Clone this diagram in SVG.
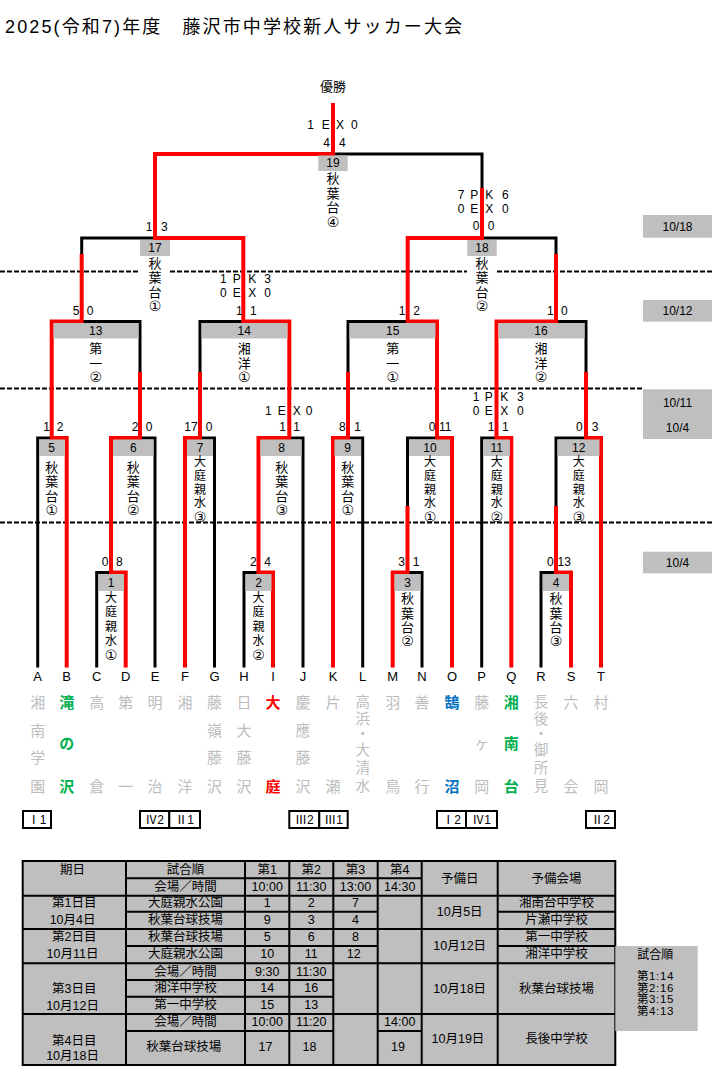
<svg xmlns="http://www.w3.org/2000/svg" width="712" height="1085" viewBox="0 0 712 1085">
<style>
text{font-family:"Liberation Sans","Noto Sans CJK JP",sans-serif;fill:#000}
.c{text-anchor:middle;dominant-baseline:central}
.s{font-size:12px}
.t{font-size:12.5px}
.v{font-size:13px}
.v5{font-size:12px}
.ci{font-size:14px;font-family:"DejaVu Sans","Noto Sans CJK JP",sans-serif}
.nm{font-size:15px;fill:#bdbdbd}
.grn{fill:#00b050;font-weight:bold}
.rdt{fill:#ff0000;font-weight:bold}
.blu{fill:#0070c0;font-weight:bold}
.bk{fill:none;stroke:#000;stroke-width:3}
.rd{fill:none;stroke:#ff0000;stroke-width:4}
.dash{stroke:#000;stroke-width:2;stroke-dasharray:5 2}
.g{fill:#bfbfbf}
.tl{stroke:#000;stroke-width:2;fill:none}
.rb{fill:#fff;stroke:#000;stroke-width:2}
</style>
<rect width="712" height="1085" fill="#fff"/>
<text x="5" y="27" style="font-size:18px;dominant-baseline:central" textLength="457" lengthAdjust="spacing">2025(令和7)年度　藤沢市中学校新人サッカー大会</text>

<g id="date-lines">
<line class="dash" x1="0" y1="271.5" x2="140" y2="271.5"/>
<line class="dash" x1="170" y1="271.5" x2="467" y2="271.5"/>
<line class="dash" x1="497" y1="271.5" x2="712" y2="271.5"/>
<line class="dash" x1="0" y1="388.5" x2="643" y2="388.5"/>
<line class="dash" x1="0" y1="522.5" x2="712" y2="522.5"/>
<rect class="g" x="643" y="215" width="69" height="22.7"/>
<text class="c s" x="677.5" y="226.5">10/18</text>
<rect class="g" x="643" y="300" width="69" height="21.7"/>
<text class="c s" x="677.5" y="311">10/12</text>
<rect class="g" x="643" y="389.3" width="69" height="49.7"/>
<text class="c s" x="677.5" y="403.3">10/11</text>
<text class="c s" x="677.5" y="427.7">10/4</text>
<rect class="g" x="643" y="551.7" width="69" height="21.6"/>
<text class="c s" x="677.5" y="562.5">10/4</text>
</g>

<g id="connectors">
<path class="bk" d="M37.7 667.5V438H51.7"/>
<path class="bk" d="M96.7 667.5V572.5H111"/>
<path class="bk" d="M155 667.5V438H140"/>
<path class="bk" d="M214.5 667.5V438H200"/>
<path class="bk" d="M244 667.5V572.5H258.5"/>
<path class="bk" d="M303 667.5V438H289.3"/>
<path class="bk" d="M362.7 667.5V438H348"/>
<path class="bk" d="M422 667.5V572.5H407.5"/>
<path class="bk" d="M407.5 506V438H437"/>
<path class="bk" d="M481.7 667.5V438H496.5"/>
<path class="bk" d="M541 667.5V572.5H556"/>
<path class="bk" d="M556 506V438H586"/>
<path class="bk" d="M140 372V321.5H81.7"/>
<path class="bk" d="M200 372V321.5H243.3"/>
<path class="bk" d="M348 372V321.5H407.7"/>
<path class="bk" d="M586 372V321.5H556"/>
<path class="bk" d="M81.7 254V238H155"/>
<path class="bk" d="M556 254V238H482"/>
<path class="bk" d="M482 188V154H333"/>
<path class="rd" d="M66.7 667.5V438H51.7V321.5H81.7V254"/>
<path class="rd" d="M125.7 667.5V572.5H111V438H140V372"/>
<path class="rd" d="M185 667.5V438H200V372"/>
<path class="rd" d="M273 667.5V572.5H258.5V438H289.3V321.5H243.3V238H155V154H333V103"/>
<path class="rd" d="M333 667.5V438H348V372"/>
<path class="rd" d="M392.7 667.5V572.5H407.5V506"/>
<path class="rd" d="M452 667.5V438H437V321.5H407.7V238H482V188"/>
<path class="rd" d="M511.3 667.5V438H496.5V321.5H556V254"/>
<path class="rd" d="M571 667.5V572.5H556V506"/>
<path class="rd" d="M601 667.5V438H586V372"/>
</g>

<g id="winner">
<text class="c" style="font-size:13px" x="333" y="86">優勝</text>
</g>

<g id="m19">
<rect class="g" x="318.3" y="155.5" width="29.4" height="15.5"/>
<text class="c s" x="333" y="163.3">19</text>
<text class="c v"><tspan x="333" y="178">秋</tspan><tspan x="333" y="192.7">葉</tspan><tspan x="333" y="206.7">台</tspan><tspan class="ci" x="333" y="221.7">④</tspan></text>
<text class="c s"><tspan x="310.7" y="125">1</tspan><tspan x="325.7" y="125">E</tspan><tspan x="340" y="125">X</tspan><tspan x="354.3" y="125">0</tspan><tspan x="326.7" y="142.7">4</tspan><tspan x="342.3" y="142.7">4</tspan></text>
</g>

<g id="m17">
<rect class="g" x="140" y="240" width="30" height="16"/>
<text class="c s" x="155" y="248">17</text>
<text class="c v"><tspan x="155" y="262.5">秋</tspan><tspan x="155" y="277">葉</tspan><tspan x="155" y="291.7">台</tspan><tspan class="ci" x="155" y="305.7">①</tspan></text>
<text class="c s"><tspan x="149" y="226.7">1</tspan><tspan x="164.3" y="226.7">3</tspan></text>
</g>

<g id="m18">
<rect class="g" x="467.3" y="240" width="29.4" height="16"/>
<text class="c s" x="482" y="248">18</text>
<text class="c v"><tspan x="482" y="263.3">秋</tspan><tspan x="482" y="277.3">葉</tspan><tspan x="482" y="291.7">台</tspan><tspan class="ci" x="482" y="305.7">②</tspan></text>
<text class="c s"><tspan x="461" y="195">7</tspan><tspan x="474.3" y="195">P</tspan><tspan x="489.3" y="195">K</tspan><tspan x="505.3" y="195">6</tspan><tspan x="461" y="209">0</tspan><tspan x="474.3" y="209">E</tspan><tspan x="489.3" y="209">X</tspan><tspan x="505.3" y="209">0</tspan><tspan x="476" y="226">0</tspan><tspan x="491" y="226">0</tspan></text>
</g>

<g id="m13">
<rect class="g" x="53.5" y="323" width="85" height="15.5"/>
<text class="c s" x="95.7" y="330.5">13</text>
<text class="c v"><tspan x="95.7" y="348.3">第</tspan><tspan x="95.7" y="363.3">一</tspan><tspan class="ci" x="95.7" y="377.3">②</tspan></text>
<text class="c s"><tspan x="76" y="311">5</tspan><tspan x="90" y="311">0</tspan></text>
</g>

<g id="m14">
<rect class="g" x="201.5" y="323" width="86" height="15.5"/>
<text class="c s" x="244.3" y="330.5">14</text>
<text class="c v"><tspan x="244.3" y="348.3">湘</tspan><tspan x="244.3" y="363.3">洋</tspan><tspan class="ci" x="244.3" y="377.3">①</tspan></text>
<text class="c s"><tspan x="223.3" y="279">1</tspan><tspan x="236.7" y="279">P</tspan><tspan x="252.3" y="279">K</tspan><tspan x="267.7" y="279">3</tspan><tspan x="223.3" y="293.3">0</tspan><tspan x="236.7" y="293.3">E</tspan><tspan x="252.3" y="293.3">X</tspan><tspan x="267.7" y="293.3">0</tspan><tspan x="239.3" y="311">1</tspan><tspan x="253.3" y="311">1</tspan></text>
</g>

<g id="m15">
<rect class="g" x="349.5" y="323" width="86" height="15.5"/>
<text class="c s" x="392.7" y="330.5">15</text>
<text class="c v"><tspan x="392.7" y="348.3">第</tspan><tspan x="392.7" y="363.3">一</tspan><tspan class="ci" x="392.7" y="377.3">①</tspan></text>
<text class="c s"><tspan x="402" y="311">1</tspan><tspan x="416.7" y="311">2</tspan></text>
</g>

<g id="m16">
<rect class="g" x="498.5" y="323" width="86" height="15.5"/>
<text class="c s" x="541" y="330.5">16</text>
<text class="c v"><tspan x="541" y="348.3">湘</tspan><tspan x="541" y="363.3">洋</tspan><tspan class="ci" x="541" y="377.3">②</tspan></text>
<text class="c s"><tspan x="550.3" y="311">1</tspan><tspan x="564.3" y="311">0</tspan></text>
</g>

<g id="m5">
<rect class="g" x="39" y="439.5" width="26" height="16.5"/>
<text class="c s" x="51.7" y="447.7">5</text>
<text class="c v"><tspan x="51.7" y="466.7">秋</tspan><tspan x="51.7" y="481">葉</tspan><tspan x="51.7" y="495.5">台</tspan><tspan class="ci" x="51.7" y="509.5">①</tspan></text>
<text class="c s"><tspan x="46.7" y="426.7">1</tspan><tspan x="60" y="426.7">2</tspan></text>
</g>

<g id="m6">
<rect class="g" x="113" y="439.5" width="40.5" height="16.5"/>
<text class="c s" x="133.3" y="447.7">6</text>
<text class="c v"><tspan x="133.3" y="466.7">秋</tspan><tspan x="133.3" y="481">葉</tspan><tspan x="133.3" y="495.5">台</tspan><tspan class="ci" x="133.3" y="509.5">②</tspan></text>
<text class="c s"><tspan x="135" y="426.7">2</tspan><tspan x="149" y="426.7">0</tspan></text>
</g>

<g id="m7">
<rect class="g" x="187" y="439.5" width="26" height="16.5"/>
<text class="c s" x="200" y="447.7">7</text>
<text class="c v5"><tspan x="200" y="462">大</tspan><tspan x="200" y="475.8">庭</tspan><tspan x="200" y="489.5">親</tspan><tspan x="200" y="503">水</tspan><tspan class="ci" x="200" y="516.5">③</tspan></text>
<text class="c s"><tspan x="191" y="426.7">17</tspan><tspan x="209" y="426.7">0</tspan></text>
</g>

<g id="m8">
<rect class="g" x="260.5" y="439.5" width="41" height="16.5"/>
<text class="c s" x="281.7" y="447.7">8</text>
<text class="c v"><tspan x="281.7" y="466.7">秋</tspan><tspan x="281.7" y="481">葉</tspan><tspan x="281.7" y="495.5">台</tspan><tspan class="ci" x="281.7" y="509.5">③</tspan></text>
<text class="c s"><tspan x="268.3" y="411">1</tspan><tspan x="281.7" y="411">E</tspan><tspan x="296.7" y="411">X</tspan><tspan x="309" y="411">0</tspan><tspan x="282.7" y="426.7">1</tspan><tspan x="296.7" y="426.7">1</tspan></text>
</g>

<g id="m9">
<rect class="g" x="334.5" y="439.5" width="26.5" height="16.5"/>
<text class="c s" x="347.7" y="447.7">9</text>
<text class="c v"><tspan x="347.7" y="466.7">秋</tspan><tspan x="347.7" y="481">葉</tspan><tspan x="347.7" y="495.5">台</tspan><tspan class="ci" x="347.7" y="509.5">①</tspan></text>
<text class="c s"><tspan x="342.3" y="426.7">8</tspan><tspan x="357.7" y="426.7">1</tspan></text>
</g>

<g id="m10">
<rect class="g" x="409" y="439.5" width="41" height="16.5"/>
<text class="c s" x="430" y="447.7">10</text>
<text class="c v5"><tspan x="430" y="462">大</tspan><tspan x="430" y="475.8">庭</tspan><tspan x="430" y="489.5">親</tspan><tspan x="430" y="503">水</tspan><tspan class="ci" x="430" y="516.5">①</tspan></text>
<text class="c s"><tspan x="432" y="426.7">0</tspan><tspan x="445.3" y="426.7">11</tspan></text>
</g>

<g id="m11">
<rect class="g" x="483.2" y="439.5" width="26.6" height="16.5"/>
<text class="c s" x="496.7" y="447.7">11</text>
<text class="c v5"><tspan x="496.7" y="462">大</tspan><tspan x="496.7" y="475.8">庭</tspan><tspan x="496.7" y="489.5">親</tspan><tspan x="496.7" y="503">水</tspan><tspan class="ci" x="496.7" y="516.5">②</tspan></text>
<text class="c s"><tspan x="476" y="396.7">1</tspan><tspan x="488.7" y="396.7">P</tspan><tspan x="504.3" y="396.7">K</tspan><tspan x="520.3" y="396.7">3</tspan><tspan x="476" y="411">0</tspan><tspan x="488.7" y="411">E</tspan><tspan x="504.3" y="411">X</tspan><tspan x="520.3" y="411">0</tspan><tspan x="491" y="426.7">1</tspan><tspan x="505.3" y="426.7">1</tspan></text>
</g>

<g id="m12">
<rect class="g" x="557.5" y="439.5" width="42" height="16.5"/>
<text class="c s" x="578.7" y="447.7">12</text>
<text class="c v5"><tspan x="578.7" y="462">大</tspan><tspan x="578.7" y="475.8">庭</tspan><tspan x="578.7" y="489.5">親</tspan><tspan x="578.7" y="503">水</tspan><tspan class="ci" x="578.7" y="516.5">③</tspan></text>
<text class="c s"><tspan x="579.3" y="426.7">0</tspan><tspan x="595" y="426.7">3</tspan></text>
</g>

<g id="m1">
<rect class="g" x="98" y="574" width="26" height="17"/>
<text class="c s" x="111" y="582.5">1</text>
<text class="c v5"><tspan x="111" y="598">大</tspan><tspan x="111" y="612.3">庭</tspan><tspan x="111" y="626.6">親</tspan><tspan x="111" y="640.8">水</tspan><tspan class="ci" x="111" y="655">①</tspan></text>
<text class="c s"><tspan x="105" y="562">0</tspan><tspan x="119.3" y="562">8</tspan></text>
</g>

<g id="m2">
<rect class="g" x="245.5" y="574" width="26" height="17"/>
<text class="c s" x="258.5" y="582.5">2</text>
<text class="c v5"><tspan x="258.5" y="598">大</tspan><tspan x="258.5" y="612.3">庭</tspan><tspan x="258.5" y="626.6">親</tspan><tspan x="258.5" y="640.8">水</tspan><tspan class="ci" x="258.5" y="655">②</tspan></text>
<text class="c s"><tspan x="253.3" y="562">2</tspan><tspan x="267.7" y="562">4</tspan></text>
</g>

<g id="m3">
<rect class="g" x="394.5" y="574" width="26" height="17"/>
<text class="c s" x="407.5" y="582.5">3</text>
<text class="c v"><tspan x="407.5" y="598">秋</tspan><tspan x="407.5" y="612.5">葉</tspan><tspan x="407.5" y="627">台</tspan><tspan class="ci" x="407.5" y="641">②</tspan></text>
<text class="c s"><tspan x="401.7" y="562">3</tspan><tspan x="416" y="562">1</tspan></text>
</g>

<g id="m4">
<rect class="g" x="543" y="574" width="26" height="17"/>
<text class="c s" x="556" y="582.5">4</text>
<text class="c v"><tspan x="556" y="598">秋</tspan><tspan x="556" y="612.5">葉</tspan><tspan x="556" y="627">台</tspan><tspan class="ci" x="556" y="641">③</tspan></text>
<text class="c s"><tspan x="550.3" y="562">0</tspan><tspan x="564.3" y="562">13</tspan></text>
</g>

<g id="teams">
<text class="c" style="font-size:13px"><tspan x="37.7" y="676">A</tspan><tspan x="66.7" y="676">B</tspan><tspan x="96.7" y="676">C</tspan><tspan x="125.7" y="676">D</tspan><tspan x="155" y="676">E</tspan><tspan x="185" y="676">F</tspan><tspan x="214.5" y="676">G</tspan><tspan x="244" y="676">H</tspan><tspan x="273" y="676">I</tspan><tspan x="303" y="676">J</tspan><tspan x="333" y="676">K</tspan><tspan x="362.7" y="676">L</tspan><tspan x="392.7" y="676">M</tspan><tspan x="422" y="676">N</tspan><tspan x="452" y="676">O</tspan><tspan x="481.7" y="676">P</tspan><tspan x="511.3" y="676">Q</tspan><tspan x="541" y="676">R</tspan><tspan x="571" y="676">S</tspan><tspan x="601" y="676">T</tspan></text>
<g id="team-A"><text class="c nm"><tspan x="37.7" y="702">湘</tspan><tspan x="37.7" y="730">南</tspan><tspan x="37.7" y="757">学</tspan><tspan x="37.7" y="786">園</tspan></text></g>
<g id="team-B"><text class="c nm grn"><tspan x="66.7" y="702">滝</tspan><tspan x="66.7" y="743">の</tspan><tspan x="66.7" y="786">沢</tspan></text></g>
<g id="team-C"><text class="c nm"><tspan x="96.7" y="702">高</tspan><tspan x="96.7" y="786">倉</tspan></text></g>
<g id="team-D"><text class="c nm"><tspan x="125.7" y="702">第</tspan><tspan x="125.7" y="786">一</tspan></text></g>
<g id="team-E"><text class="c nm"><tspan x="155" y="702">明</tspan><tspan x="155" y="786">治</tspan></text></g>
<g id="team-F"><text class="c nm"><tspan x="185" y="702">湘</tspan><tspan x="185" y="786">洋</tspan></text></g>
<g id="team-G"><text class="c nm"><tspan x="214.5" y="702">藤</tspan><tspan x="214.5" y="730">嶺</tspan><tspan x="214.5" y="757">藤</tspan><tspan x="214.5" y="786">沢</tspan></text></g>
<g id="team-H"><text class="c nm"><tspan x="244" y="702">日</tspan><tspan x="244" y="730">大</tspan><tspan x="244" y="757">藤</tspan><tspan x="244" y="786">沢</tspan></text></g>
<g id="team-I"><text class="c nm rdt"><tspan x="273" y="702">大</tspan><tspan x="273" y="786">庭</tspan></text></g>
<g id="team-J"><text class="c nm"><tspan x="303" y="702">慶</tspan><tspan x="303" y="730">應</tspan><tspan x="303" y="757">藤</tspan><tspan x="303" y="786">沢</tspan></text></g>
<g id="team-K"><text class="c nm"><tspan x="333" y="702">片</tspan><tspan x="333" y="786">瀬</tspan></text></g>
<g id="team-L"><text class="c nm" style="font-size:14.5px"><tspan x="362.7" y="702">高</tspan><tspan x="362.7" y="718.5">浜</tspan><tspan x="362.7" y="733.5">・</tspan><tspan x="362.7" y="750">大</tspan><tspan x="362.7" y="767.5">清</tspan><tspan x="362.7" y="786">水</tspan></text></g>
<g id="team-M"><text class="c nm"><tspan x="392.7" y="702">羽</tspan><tspan x="392.7" y="786">鳥</tspan></text></g>
<g id="team-N"><text class="c nm"><tspan x="422" y="702">善</tspan><tspan x="422" y="786">行</tspan></text></g>
<g id="team-O"><text class="c nm blu"><tspan x="452" y="702">鵠</tspan><tspan x="452" y="786">沼</tspan></text></g>
<g id="team-P"><text class="c nm"><tspan x="481.7" y="702">藤</tspan><tspan x="481.7" y="743">ヶ</tspan><tspan x="481.7" y="786">岡</tspan></text></g>
<g id="team-Q"><text class="c nm grn"><tspan x="511.3" y="702">湘</tspan><tspan x="511.3" y="743">南</tspan><tspan x="511.3" y="786">台</tspan></text></g>
<g id="team-R"><text class="c nm" style="font-size:14.5px"><tspan x="541" y="702">長</tspan><tspan x="541" y="718.5">後</tspan><tspan x="541" y="733.5">・</tspan><tspan x="541" y="750">御</tspan><tspan x="541" y="767.5">所</tspan><tspan x="541" y="786">見</tspan></text></g>
<g id="team-S"><text class="c nm"><tspan x="571" y="702">六</tspan><tspan x="571" y="786">会</tspan></text></g>
<g id="team-T"><text class="c nm"><tspan x="601" y="702">村</tspan><tspan x="601" y="786">岡</tspan></text></g>
</g>

<g id="seeds">
<rect class="rb" x="23" y="811" width="28" height="17"/><text class="c s" x="37" y="819.5">Ⅰ1</text>
<rect class="rb" x="140" y="811" width="29.3" height="17"/><text class="c s" x="154.7" y="819.5">Ⅳ2</text>
<rect class="rb" x="169.3" y="811" width="30.7" height="17"/><text class="c s" x="184.7" y="819.5">Ⅱ1</text>
<rect class="rb" x="289.3" y="811" width="30" height="17"/><text class="c s" x="304.3" y="819.5">Ⅲ2</text>
<rect class="rb" x="319.3" y="811" width="28.4" height="17"/><text class="c s" x="333.5" y="819.5">Ⅲ1</text>
<rect class="rb" x="437" y="811" width="29" height="17"/><text class="c s" x="451.5" y="819.5">Ⅰ2</text>
<rect class="rb" x="466" y="811" width="31" height="17"/><text class="c s" x="481.5" y="819.5">Ⅳ1</text>
<rect class="rb" x="586" y="811" width="29" height="17"/><text class="c s" x="600.5" y="819.5">Ⅱ2</text>
</g>

<g id="schedule">
<rect class="g" x="22.7" y="861" width="592.6" height="204"/>
<g class="tl">
<rect x="22.7" y="861" width="592.6" height="204"/>
<path d="M126 861V1065M245 861V1065M289.3 861V1065M333.3 861V1065M377.7 861V1065M421.7 861V1065M497.7 861V1065"/>
<path d="M126 878.3H421.7M22.7 895.7H615.3M126 911.7H377.7M497.7 911.7H615.3M22.7 929H615.3M126 946H377.7M497.7 946H615.3M22.7 963.3H615.3M126 980H333.3M126 996.7H333.3M22.7 1014H615.3M126 1031H333.3M377.7 1031H421.7"/>
</g>
<text class="c t">
<tspan x="74.3" y="870">期日</tspan>
<tspan x="74.3" y="903">第1日目</tspan><tspan x="74.3" y="920">10月4日</tspan>
<tspan x="74.3" y="936.7">第2日目</tspan><tspan x="74.3" y="954">10月11日</tspan>
<tspan x="74.3" y="989.3">第3日目</tspan><tspan x="74.3" y="1005.7">10月12日</tspan>
<tspan x="74.3" y="1040.7">第4日目</tspan><tspan x="74.3" y="1055.7">10月18日</tspan>
<tspan x="185.5" y="870">試合順</tspan><tspan x="185.5" y="886.7">会場／時間</tspan><tspan x="185.5" y="903.3">大庭親水公園</tspan><tspan x="185.5" y="920.3">秋葉台球技場</tspan><tspan x="185.5" y="937.3">秋葉台球技場</tspan><tspan x="185.5" y="954.3">大庭親水公園</tspan><tspan x="185.5" y="971.7">会場／時間</tspan><tspan x="185.5" y="988.3">湘洋中学校</tspan><tspan x="185.5" y="1005">第一中学校</tspan><tspan x="185.5" y="1022.3">会場／時間</tspan><tspan x="185.5" y="1046.7">秋葉台球技場</tspan>
<tspan x="267.2" y="870">第1</tspan><tspan x="267.2" y="886.7">10:00</tspan><tspan x="267.2" y="903.3">1</tspan><tspan x="267.2" y="920.3">9</tspan><tspan x="267.2" y="937.3">5</tspan><tspan x="267.2" y="954.3">10</tspan><tspan x="267.2" y="971.7">9:30</tspan><tspan x="267.2" y="988.3">14</tspan><tspan x="267.2" y="1005">15</tspan><tspan x="267.2" y="1022.3">10:00</tspan><tspan x="267.2" y="1046.7">17</tspan>
<tspan x="311.3" y="870">第2</tspan><tspan x="311.3" y="886.7">11:30</tspan><tspan x="311.3" y="903.3">2</tspan><tspan x="311.3" y="920.3">3</tspan><tspan x="311.3" y="937.3">6</tspan><tspan x="311.3" y="954.3">11</tspan><tspan x="311.3" y="971.7">11:30</tspan><tspan x="311.3" y="988.3">16</tspan><tspan x="311.3" y="1005">13</tspan><tspan x="311.3" y="1022.3">11:20</tspan><tspan x="311.3" y="1046.7">18</tspan>
<tspan x="355.5" y="870">第3</tspan><tspan x="355.5" y="886.7">13:00</tspan><tspan x="355.5" y="903.3">7</tspan><tspan x="355.5" y="920.3">4</tspan><tspan x="355.5" y="937.3">8</tspan><tspan x="355.5" y="954.3">12</tspan>
<tspan x="399.7" y="870">第4</tspan><tspan x="399.7" y="886.7">14:30</tspan><tspan x="399.7" y="1022.3">14:00</tspan><tspan x="399.7" y="1046.7">19</tspan>
<tspan x="459.7" y="879.3">予備日</tspan><tspan x="459.7" y="911.7">10月5日</tspan><tspan x="459.7" y="946">10月12日</tspan><tspan x="459.7" y="989">10月18日</tspan><tspan x="459.7" y="1039.3">10月19日</tspan>
<tspan x="556.5" y="879.3">予備会場</tspan><tspan x="556.5" y="903.3">湘南台中学校</tspan><tspan x="556.5" y="920.3">片瀬中学校</tspan><tspan x="556.5" y="937.3">第一中学校</tspan><tspan x="556.5" y="954.3">湘洋中学校</tspan><tspan x="556.5" y="989">秋葉台球技場</tspan><tspan x="556.5" y="1039.3">長後中学校</tspan>
</text>
</g>

<g id="order-note">
<rect class="g" x="615.3" y="946" width="82.4" height="85"/>
<text class="c s" x="655.3" y="955">試合順</text>
<text style="font-size:11.5px;letter-spacing:0.6px;dominant-baseline:central"><tspan x="637" y="976">第1:14</tspan><tspan x="637" y="987.7">第2:16</tspan><tspan x="637" y="999.3">第3:15</tspan><tspan x="637" y="1011">第4:13</tspan></text>
</g>
</svg>
